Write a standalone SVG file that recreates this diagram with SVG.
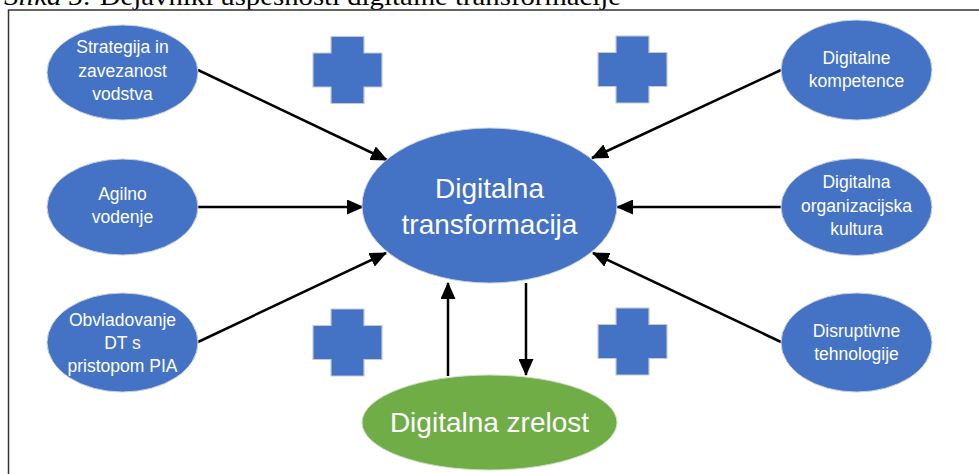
<svg xmlns="http://www.w3.org/2000/svg" xmlns:xlink="http://www.w3.org/1999/xlink" width="979" height="474" viewBox="0 0 979 474">
  <style>
    .blue { fill: #4472C4; stroke: #c9d1e3; stroke-width: 1; }
    .green { fill: #70AD47; stroke: #cfe0c4; stroke-width: 1; }
    .plus { fill: #4472C4; stroke: #c4c9d4; stroke-width: 1.2; }
    .lbl { font-family: "Liberation Sans", Arial, sans-serif; fill: #ffffff; text-anchor: middle; }
    .sm { font-size: 17.5px; }
    .lg { font-size: 28px; }
    .cap { font-family: "Liberation Serif", "Times New Roman", serif; font-size: 26px; fill: #000000; }
    .conn { stroke: #000000; stroke-width: 2.5; fill: none; marker-end: url(#arrow); }
  </style>
  <defs>
    <marker id="arrow" markerUnits="userSpaceOnUse" markerWidth="17" markerHeight="15" refX="16" refY="7.5" orient="auto">
      <path d="M0,0 L17,7.5 L0,15 Z" fill="#000000"/>
    </marker>
    <path id="cross" d="M-16.5,-33.5 H16.5 V-17 H34.5 V17 H16.5 V33.5 H-16.5 V17 H-34.5 V-17 H-16.5 Z"/>
  </defs>

  <rect width="979" height="474" fill="#ffffff"/>

  <text class="cap" x="4" y="5" textLength="617" lengthAdjust="spacingAndGlyphs"><tspan font-style="italic">Slika 5:</tspan> Dejavniki uspešnosti digitalne transformacije</text>

  <path d="M8.5,474 V10 H979" fill="none" stroke="#333333" stroke-width="1.5"/>

  <g id="crosses">
    <use xlink:href="#cross" class="plus" transform="translate(347.5,70)"/>
    <use xlink:href="#cross" class="plus" transform="translate(632.5,69.5)"/>
    <use xlink:href="#cross" class="plus" transform="translate(347.5,342.5)"/>
    <use xlink:href="#cross" class="plus" transform="translate(632.5,341.5)"/>
  </g>

  <g id="connectors">
    <line class="conn" x1="198" y1="70" x2="387" y2="160"/>
    <line class="conn" x1="198" y1="207" x2="363" y2="207"/>
    <line class="conn" x1="198" y1="342" x2="386" y2="253"/>
    <line class="conn" x1="781" y1="70" x2="592" y2="158"/>
    <line class="conn" x1="781" y1="207" x2="617" y2="207"/>
    <line class="conn" x1="781" y1="342" x2="593" y2="253"/>
    <line class="conn" x1="448" y1="376" x2="448" y2="283"/>
    <line class="conn" x1="526" y1="283" x2="526" y2="375"/>
  </g>

  <g id="node-center">
    <ellipse class="blue" cx="489.5" cy="205.5" rx="127.5" ry="77.5"/>
    <text class="lbl lg" x="489.5" y="198">Digitalna</text>
    <text class="lbl lg" x="489.5" y="234">transformacija</text>
  </g>

  <g id="node-zrelost">
    <ellipse class="green" cx="489.5" cy="422.5" rx="127.5" ry="47.5"/>
    <text class="lbl lg" x="489.5" y="432">Digitalna zrelost</text>
  </g>

  <g id="node-strategija">
    <ellipse class="blue" cx="122.5" cy="72.5" rx="75.5" ry="47.5"/>
    <text class="lbl sm" x="122.5" y="53">Strategija in</text>
    <text class="lbl sm" x="122.5" y="77">zavezanost</text>
    <text class="lbl sm" x="122.5" y="100">vodstva</text>
  </g>

  <g id="node-agilno">
    <ellipse class="blue" cx="122.5" cy="207" rx="75.5" ry="48"/>
    <text class="lbl sm" x="122.5" y="200">Agilno</text>
    <text class="lbl sm" x="122.5" y="223">vodenje</text>
  </g>

  <g id="node-obvladovanje">
    <ellipse class="blue" cx="122.5" cy="342.5" rx="75.5" ry="49.5"/>
    <text class="lbl sm" x="122.5" y="326">Obvladovanje</text>
    <text class="lbl sm" x="122.5" y="349">DT s</text>
    <text class="lbl sm" x="122.5" y="372">pristopom PIA</text>
  </g>

  <g id="node-kompetence">
    <ellipse class="blue" cx="856.5" cy="70" rx="75.5" ry="50"/>
    <text class="lbl sm" x="856.5" y="64">Digitalne</text>
    <text class="lbl sm" x="856.5" y="87">kompetence</text>
  </g>

  <g id="node-kultura">
    <ellipse class="blue" cx="856.5" cy="207" rx="75.5" ry="48.5"/>
    <text class="lbl sm" x="856.5" y="188">Digitalna</text>
    <text class="lbl sm" x="856.5" y="212">organizacijska</text>
    <text class="lbl sm" x="856.5" y="235">kultura</text>
  </g>

  <g id="node-disruptivne">
    <ellipse class="blue" cx="856.5" cy="342.5" rx="75.5" ry="49.5"/>
    <text class="lbl sm" x="856.5" y="337">Disruptivne</text>
    <text class="lbl sm" x="856.5" y="360">tehnologije</text>
  </g>
</svg>
